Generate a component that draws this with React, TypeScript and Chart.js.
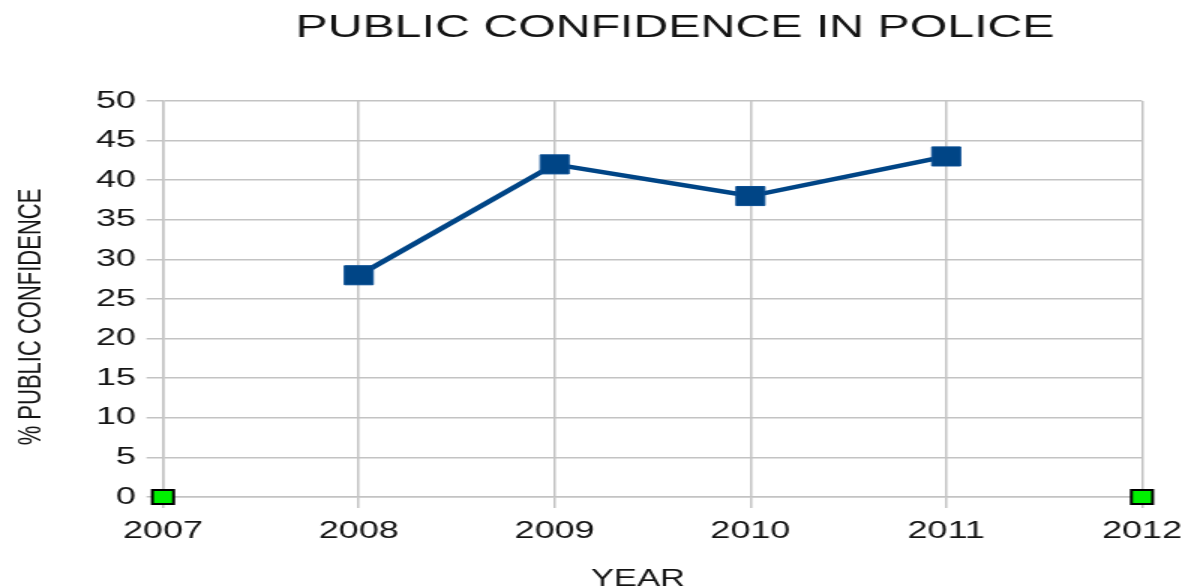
import React, { useEffect, useRef } from 'react';
import { Chart, registerables } from 'chart.js';

Chart.register(...registerables);

// ---- data ----
const TITLE = 'PUBLIC CONFIDENCE IN POLICE';
const X_TITLE = 'YEAR';
const Y_TITLE = '% PUBLIC CONFIDENCE';
const YEARS = ['2007', '2008', '2009', '2010', '2011', '2012'];
const CONFIDENCE = [null, 28, 42, 38, 43, null];
const ENDPOINTS = [0, null, null, null, null, 0];
const Y_MIN = 0;
const Y_MAX = 50;
const Y_STEP = 5;

// ---- layout ----
const W = 1188;
const H = 588;
const SX = 1.5; // the reference is stretched horizontally
const IW = W / SX;
const FAMILY = '"Liberation Sans", Arial, sans-serif';
const TEXT = '#141414';
const GRID = '#c3c3c3';

const titlesPlugin = {
  id: 'titlesPlugin',
  afterDraw(chart: any) {
    const ctx = chart.ctx;
    ctx.save();
    ctx.fillStyle = TEXT;
    ctx.textAlign = 'center';
    ctx.textBaseline = 'alphabetic';
    ctx.font = `32.2px ${FAMILY}`;
    ctx.fillText(TITLE, 675 / SX, 37);
    ctx.font = `23px ${FAMILY}`;
    ctx.fillText(X_TITLE, 638 / SX, 586);
    ctx.translate(40 / SX, 317);
    ctx.rotate(-Math.PI / 2);
    ctx.font = `22px ${FAMILY}`;
    ctx.fillText(Y_TITLE, 0, 0);
    ctx.restore();
  },
};

export default function App() {
  const ref = useRef<HTMLCanvasElement | null>(null);

  useEffect(() => {
    document.body.style.margin = '0';
    const canvas = ref.current;
    if (!canvas) return;
    const chart = new Chart(canvas, {
      type: 'line',
      data: {
        labels: YEARS,
        datasets: [
          {
            data: CONFIDENCE as any,
            borderColor: '#004586',
            backgroundColor: '#004586',
            borderWidth: 4.5,
            pointStyle: 'rect',
            pointRadius: 13.5,
            pointBorderWidth: 1,
            pointBorderColor: '#0a4f94',
            spanGaps: false,
            clip: false as any,
          },
          {
            data: ENDPOINTS as any,
            showLine: false,
            pointStyle: 'rect',
            pointRadius: 10,
            backgroundColor: '#00f000',
            borderColor: '#000000',
            pointBorderWidth: 2,
            clip: false as any,
          },
        ],
      },
      options: {
        responsive: false,
        maintainAspectRatio: false,
        animation: false,
        layout: { padding: { top: 101, right: IW - 1142 / SX, bottom: 0, left: 0 } },
        plugins: {
          legend: { display: false },
          title: { display: false },
          tooltip: { enabled: false },
        },
        scales: {
          x: {
            offset: false,
            grid: { color: GRID, lineWidth: 1.5, tickLength: 11, drawTicks: true },
            border: { display: true, color: GRID, width: 1.5 },
            ticks: {
              color: TEXT,
              font: { family: FAMILY, size: 24 },
              padding: 8.6,
              maxRotation: 0,
              autoSkip: false,
            },
            afterFit: (s: any) => {
              s.height = H - 497;
              s.paddingLeft = 0;
              s.paddingRight = 0;
            },
          },
          y: {
            min: Y_MIN,
            max: Y_MAX,
            grid: { color: GRID, lineWidth: 1.5, tickLength: 11, drawTicks: true },
            border: { display: true, color: GRID, width: 1.5 },
            ticks: {
              stepSize: Y_STEP,
              color: TEXT,
              font: { family: FAMILY, size: 24 },
              padding: 7,
            },
            afterFit: (s: any) => {
              s.width = 163 / SX;
              s.paddingTop = 0;
              s.paddingBottom = 0;
            },
          },
        },
      },
      plugins: [titlesPlugin],
    });
    return () => chart.destroy();
  }, []);

  return (
    <div style={{ width: W, height: H, background: '#fff' }}>
      <canvas
        ref={ref}
        width={IW}
        height={H}
        style={{ width: `${W}px`, height: `${H}px`, display: 'block' }}
      />
    </div>
  );
}
